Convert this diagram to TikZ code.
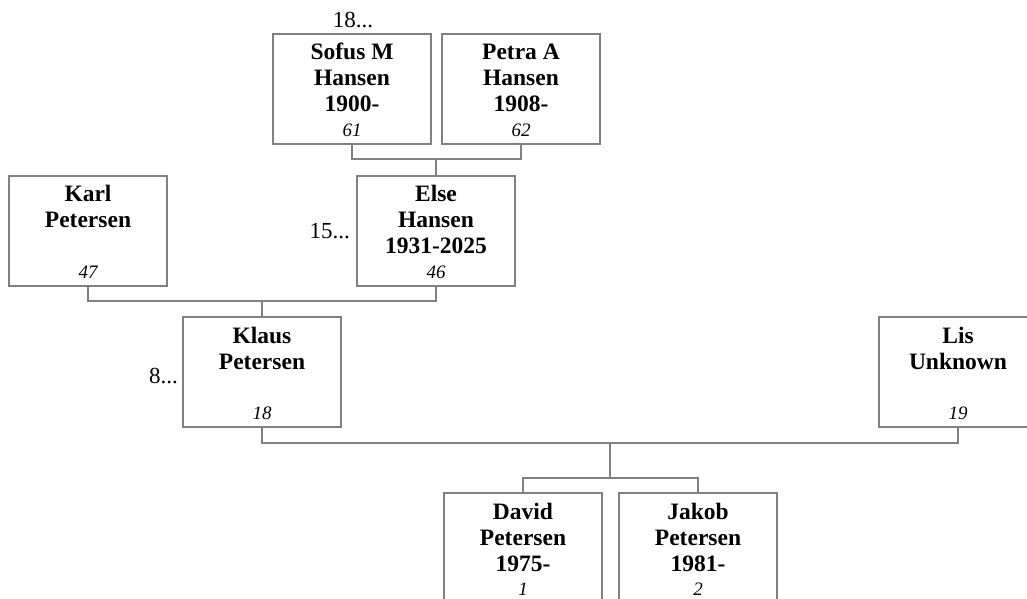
\documentclass[tikz,border=0pt]{standalone}
\usepackage{fontspec}
\setmainfont{Liberation Serif}
\definecolor{lc}{RGB}{128,128,128}
\tikzset{
  pbox/.style={draw=lc, line width=1.2pt, minimum width=158pt, minimum height=110pt, inner sep=0pt, fill=white},
  nm/.style={font=\fontsize{23.5}{26}\selectfont\bfseries, anchor=base, inner sep=0pt},
  num/.style={font=\fontsize{19}{22}\selectfont\itshape, anchor=base, inner sep=0pt},
  side/.style={font=\fontsize{23}{26}\selectfont, inner sep=0pt},
  conn/.style={draw=lc, line width=1.2pt}
}
\newcommand\personbox[4]{%
  \node[pbox] (#1) at ({#2},{#3+55}) {};
  \node[num] (#1-n) at ({#2},{#3+102}) {#4};}
\newcommand\pline[4]{\node[nm] (#1) at ({#2},{#3}) {#4};}
\begin{document}
\begin{tikzpicture}[x=1pt,y=-1pt]
\useasboundingbox (0,0) rectangle (1027,599);
% boxes
\personbox{sofus}{352}{34}{61}
\pline{sofus-a}{352}{60}{Sofus M}
\pline{sofus-b}{352}{86}{Hansen}
\pline{sofus-c}{352}{112}{1900-}
\personbox{petra}{521}{34}{62}
\pline{petra-a}{521}{60}{Petra A}
\pline{petra-b}{521}{86}{Hansen}
\pline{petra-c}{521}{112}{1908-}
\personbox{else}{436}{176}{46}
\pline{else-a}{436}{201}{Else}
\pline{else-b}{436}{227}{Hansen}
\pline{else-c}{436}{253}{1931-2025}
\personbox{karl}{88}{176}{47}
\pline{karl-a}{88}{201}{Karl}
\pline{karl-b}{88}{227}{Petersen}
\personbox{klaus}{262}{317}{18}
\pline{klaus-a}{262}{343}{Klaus}
\pline{klaus-b}{262}{369}{Petersen}
\personbox{lis}{958}{317}{19}
\pline{lis-a}{958}{343}{Lis}
\pline{lis-b}{958}{369}{Unknown}
\personbox{david}{523}{493}{1}
\pline{david-a}{523}{519}{David}
\pline{david-b}{523}{545}{Petersen}
\pline{david-c}{523}{571}{1975-}
\personbox{jakob}{698}{493}{2}
\pline{jakob-a}{698}{519}{Jakob}
\pline{jakob-b}{698}{545}{Petersen}
\pline{jakob-c}{698}{571}{1981-}
% side labels
\node[side, anchor=base] (s18) at (353,28) {18...};
\node[side, anchor=base east] (s15) at (350,238) {15...};
\node[side, anchor=base east] (s8) at (178,383) {8...};
% connectors
\coordinate (m1) at (436,159);
\coordinate (m2) at (262,301);
\coordinate (m3) at (610,443);
\coordinate (m4) at (610,478);
\draw[conn] (sofus.south) |- (m1) -| (petra.south);
\draw[conn] (m1) -- (else.north);
\draw[conn] (karl.south) |- (m2) -| (else.south);
\draw[conn] (m2) -- (klaus.north);
\draw[conn] (klaus.south) |- (m3) -| (lis.south);
\draw[conn] (m3) -- (m4);
\draw[conn] (david.north) |- (m4) -| (jakob.north);
\end{tikzpicture}
\end{document}
